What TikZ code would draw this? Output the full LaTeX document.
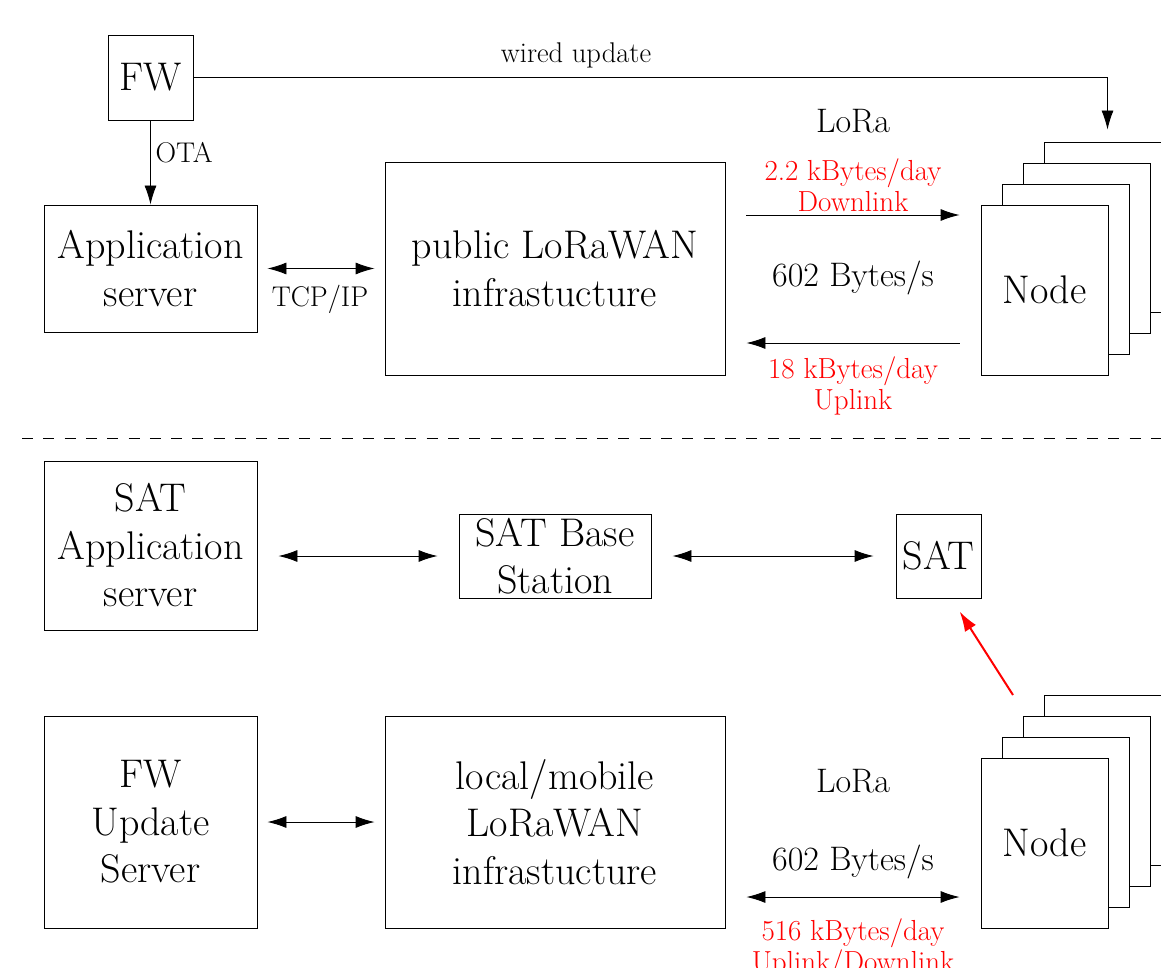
\documentclass[tikz,border=0pt]{standalone}
\usetikzlibrary{arrows.meta,calc}
\begin{document}
\begin{tikzpicture}[x=1pt,y=-1pt,
  big/.style={font=\fontsize{40}{47.5}\selectfont},
  mid/.style={font=\fontsize{34}{40}\selectfont},
  lab/.style={font=\fontsize{28.5}{32}\selectfont},
  redlab/.style={font=\fontsize{29}{31}\selectfont, text=red, align=center},
  box/.style={draw, line width=0.9pt, inner sep=0pt, align=center, big, fill=white},
  arr/.style={line width=0.9pt, -{Latex[length=19pt,width=12pt]}},
  darr/.style={line width=0.9pt, {Latex[length=19pt,width=12pt]}-{Latex[length=19pt,width=12pt]}},
  stk/.style={draw, line width=0.9pt, fill=white, minimum width=127pt, minimum height=170pt, inner sep=0pt, big}
]
\path[use as bounding box] (0,0) rectangle (1161,968);
\clip (0,0) rectangle (1161,968);

% ---------- top half ----------
\node[box, minimum width=85pt, minimum height=85pt] (fw) at (150.5,77.5) {FW};
\node[box, minimum width=213pt, minimum height=127pt] (app) at (150.5,268.5) {Application\\server};
\node[box, minimum width=340pt, minimum height=213pt] (pub) at (555,268.5) {public LoRaWAN\\infrastucture};

\node[stk] (a4) at (1107.5,227) {};
\node[stk] (a3) at (1086.5,248) {};
\node[stk] (a2) at (1065.5,269) {};
\node[stk] (a1) at (1044.5,290) {Node};

\draw[line width=0.9pt, -{Latex[length=19pt,width=12pt]}, shorten >=12pt] (fw.east) -| (a4.north);
\node[lab] (wired) at (576,55) {wired update};
\draw[arr] (fw.south) -- (app.north);
\node[lab, anchor=west] (ota) at (152,153) {OTA};
\draw[darr, shorten <=10pt, shorten >=10pt] (app.east) -- (pub.west);
\node[lab] (tcp) at (320,299) {TCP/IP};

\coordinate (dl) at (0,215);
\coordinate (ul) at (0,343);
\draw[arr, shorten <=21pt, shorten >=21pt] (pub.east |- dl) -- (a1.west |- dl);
\draw[arr, shorten <=21pt, shorten >=21pt] (a1.west |- ul) -- (pub.east |- ul);

\node[mid] (lora1) at (853,121) {LoRa};
\node[redlab] (dltxt) at (853,185.5) {2.2 kBytes/day\\Downlink};
\node[mid] (rate1) at (853,278) {602 Bytes/s};
\node[redlab] (ultxt) at (853,385.5) {18 kBytes/day\\Uplink};

% ---------- divider ----------
\draw[line width=0.9pt, dash pattern=on 11pt off 10.3pt] (22,438) -- (1161,438);

% ---------- bottom half ----------
\node[box, minimum width=213pt, minimum height=169pt] (satapp) at (150.5,545.5) {SAT\\Application\\server};
\node[box, minimum width=192pt, minimum height=84pt] (satbs) at (555,556) {SAT Base\\Station};
\node[box, minimum width=85pt, minimum height=84pt] (sat) at (938.5,556) {SAT};

\draw[darr, shorten <=21pt, shorten >=21pt] (satapp.east |- satbs.west) -- (satbs.west);
\draw[darr, shorten <=21pt, shorten >=22pt] (satbs.east) -- (sat.west);

\node[box, minimum width=213pt, minimum height=212pt] (fwu) at (150.5,822) {FW\\Update\\Server};
\node[box, minimum width=340pt, minimum height=212pt] (loc) at (555,822) {local/mobile\\LoRaWAN\\infrastucture};

\node[stk] (b4) at (1107.5,780) {};
\node[stk] (b3) at (1086.5,801) {};
\node[stk] (b2) at (1065.5,822) {};
\node[stk] (b1) at (1044.5,843) {Node};

\draw[darr, shorten <=10pt, shorten >=10pt] (fwu.east) -- (loc.west);

\coordinate (bl) at (0,897);
\draw[darr, shorten <=21pt, shorten >=21pt] (loc.east |- bl) -- (b1.west |- bl);

\node[mid] (lora2) at (853,781) {LoRa};
\node[mid] (rate2) at (853,862) {602 Bytes/s};
\node[redlab] (bltxt) at (853,948.5) {516 kBytes/day\\Uplink/Downlink};

\coordinate (rs) at (1013,695);
\coordinate (re) at (951,598);
\draw[red, line width=2pt, -{Latex[length=20pt,width=13pt]}, shorten >=16pt] (rs) -- (re);

\end{tikzpicture}
\end{document}
